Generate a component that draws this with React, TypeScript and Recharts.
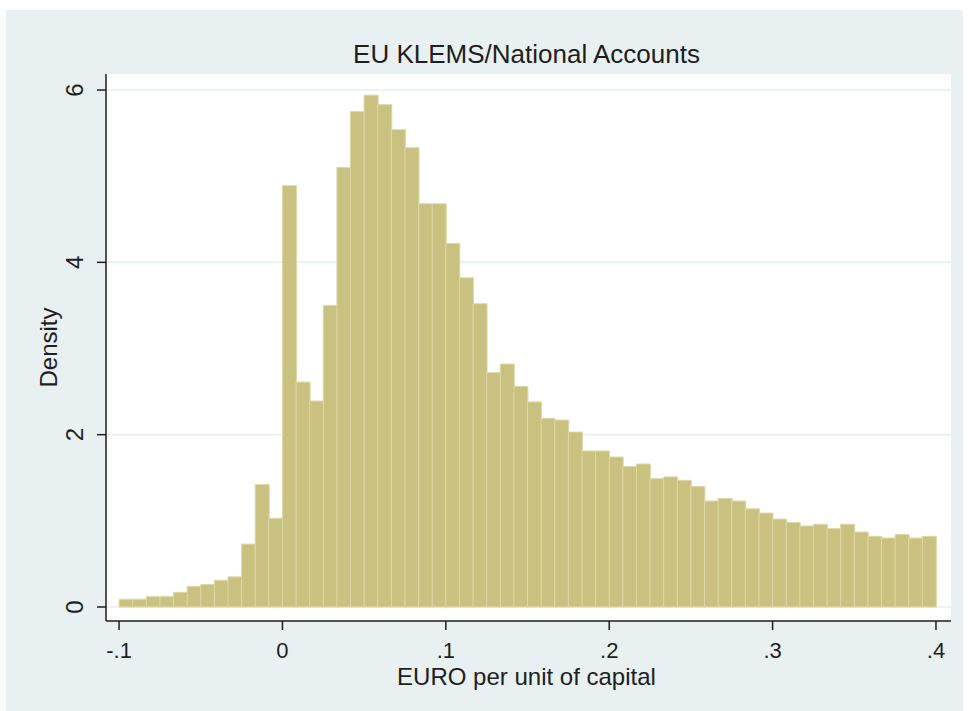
import React from 'react';
import { BarChart, Bar, XAxis, YAxis, CartesianGrid } from 'recharts';

const title = 'EU KLEMS/National Accounts';
const xLabel = 'EURO per unit of capital';
const yLabel = 'Density';

const binStart = -0.1;
const binCount = 60;
const binEnd = 0.4;

const densities = [
  0.09, 0.09, 0.12, 0.12, 0.17, 0.24, 0.26, 0.31, 0.35, 0.73,
  1.42, 1.03, 4.89, 2.61, 2.39, 3.50, 5.10, 5.75, 5.94, 5.83,
  5.54, 5.33, 4.68, 4.68, 4.22, 3.82, 3.52, 2.72, 2.82, 2.56,
  2.38, 2.19, 2.17, 2.03, 1.81, 1.81, 1.74, 1.63, 1.66, 1.49,
  1.51, 1.47, 1.40, 1.23, 1.26, 1.23, 1.14, 1.09, 1.02, 0.98,
  0.94, 0.96, 0.91, 0.96, 0.87, 0.82, 0.80, 0.84, 0.80, 0.82,
];

const xTicks = [-0.1, 0, 0.1, 0.2, 0.3, 0.4];
const xTickLabels = ['-.1', '0', '.1', '.2', '.3', '.4'];
const yTicks = [0, 2, 4, 6];
const yTickLabels = ['0', '2', '4', '6'];

const binWidth = (binEnd - binStart) / binCount;
const data = densities.map((d, i) => ({
  x: binStart + (i + 0.5) * binWidth,
  density: d,
}));

const FONT = '"Liberation Sans", Arial, Helvetica, sans-serif';
const BG = '#e9f0f2';

const XTick = (props: any) => {
  const { x, y, payload } = props;
  const idx = xTicks.findIndex((t) => Math.abs(t - payload.value) < 1e-9);
  return (
    <text x={x} y={y + 28} textAnchor="middle" fontFamily={FONT} fontSize={22} fill="#1e1e1e">
      {idx >= 0 ? xTickLabels[idx] : ''}
    </text>
  );
};

const YTick = (props: any) => {
  const { x, y, payload } = props;
  const idx = yTicks.findIndex((t) => Math.abs(t - payload.value) < 1e-9);
  const bx = x - 13.5;
  return (
    <text
      x={bx}
      y={y}
      transform={`rotate(-90, ${bx}, ${y})`}
      textAnchor="middle"
      fontFamily={FONT}
      fontSize={24}
      fill="#1e1e1e"
    >
      {idx >= 0 ? yTickLabels[idx] : ''}
    </text>
  );
};

export default function App() {
  return (
    <div style={{ position: 'absolute', left: 0, top: 0, width: 968, height: 711, background: '#ffffff' }}>
      <div style={{ position: 'absolute', left: 6, top: 10, width: 957, height: 701, background: BG }} />
      <div style={{ position: 'absolute', left: 0, top: 0 }}>
        <BarChart
          width={968}
          height={711}
          data={data}
          margin={{ top: 74, right: 17, left: 46, bottom: 30 }}
          barCategoryGap={0}
          barGap={0}
        >
          <CartesianGrid
            horizontal={true}
            vertical={false}
            fill="#ffffff"
            stroke="#e6eff2"
            strokeWidth={1.5}
            horizontalValues={yTicks}
          />
          <XAxis
            type="number"
            dataKey="x"
            domain={[-0.108, 0.4092]}
            allowDataOverflow
            ticks={xTicks}
            interval={0}
            height={60}
            tickSize={9}
            tickMargin={0}
            tick={<XTick />}
            axisLine={{ stroke: '#1e1e1e', strokeWidth: 1.5 }}
            tickLine={{ stroke: '#1e1e1e', strokeWidth: 1.5 }}
            label={{
              content: (p: any) => {
                const vb = p.viewBox || {};
                return (
                  <text
                    x={vb.x + vb.width / 2 - 2}
                    y={vb.y + 64}
                    textAnchor="middle"
                    fontFamily={FONT}
                    fontSize={24}
                    fill="#1e1e1e"
                  >
                    {xLabel}
                  </text>
                );
              },
            }}
          />
          <YAxis
            type="number"
            domain={[-0.1625, 6.186]}
            allowDataOverflow
            ticks={yTicks}
            interval={0}
            width={60}
            tickSize={9}
            tickMargin={0}
            tick={<YTick />}
            axisLine={{ stroke: '#1e1e1e', strokeWidth: 1.5 }}
            tickLine={{ stroke: '#1e1e1e', strokeWidth: 1.5 }}
            label={{
              content: (p: any) => {
                const vb = p.viewBox || {};
                const cx = vb.x + 11;
                const cy = vb.y + vb.height / 2;
                return (
                  <text
                    x={cx}
                    y={cy}
                    transform={`rotate(-90, ${cx}, ${cy})`}
                    textAnchor="middle"
                    fontFamily={FONT}
                    fontSize={24}
                    fill="#1e1e1e"
                  >
                    {yLabel}
                  </text>
                );
              },
            }}
          />
          <Bar
            dataKey="density"
            fill="#c9c17f"
            stroke="#ddd8a6"
            strokeWidth={1}
            isAnimationActive={false}
          />
          <text x={526.5} y={63} textAnchor="middle" fontFamily={FONT} fontSize={26} fill="#1e1e1e">
            {title}
          </text>
        </BarChart>
      </div>
    </div>
  );
}
